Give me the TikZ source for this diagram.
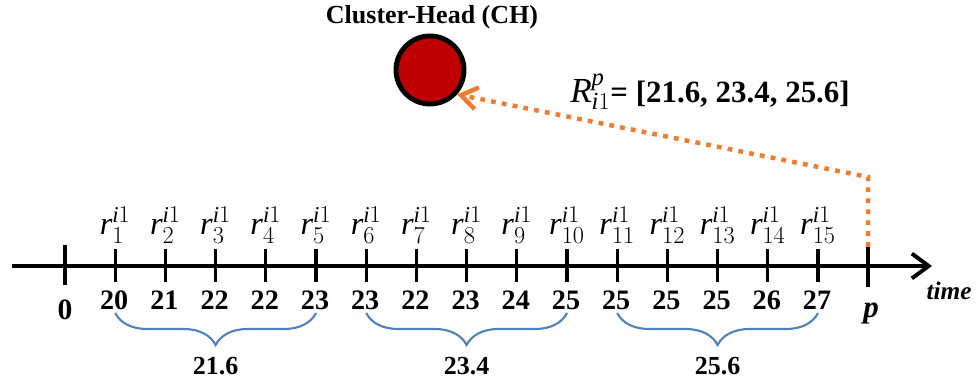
\documentclass[tikz,border=0pt]{standalone}
\usepackage{fontspec}
\setmainfont{Liberation Serif}
\usepackage{xcolor}
\definecolor{chred}{RGB}{192,0,0}
\definecolor{msgorange}{RGB}{237,125,49}
\definecolor{avgblue}{RGB}{79,129,189}
\usepackage{tikz}
\usetikzlibrary{arrows.meta, calc, decorations.pathreplacing}

\tikzset{
  tickmark/.style={line width=2.4pt},
  rlabel/.style={anchor=base, inner sep=0pt, font=\fontsize{23}{26}\selectfont},
  vallabel/.style={anchor=base, inner sep=0pt, font=\fontsize{20}{24}\selectfont\bfseries},
  avgbrace/.style={avgblue, line width=1.5pt, decorate, decoration={brace, mirror, amplitude=0.8cm}},
  avglabel/.style={anchor=base, inner sep=0pt, font=\fontsize{18.5}{22}\selectfont\bfseries},
}

\begin{document}
\begin{tikzpicture}[x=0.025cm, y=-0.025cm]
  \useasboundingbox (0,0) rectangle (976,385);

  % Cluster head
  \node[circle, draw, line width=3.5pt, fill=chred, minimum size=1.7cm, inner sep=0pt] (ch) at (430,70) {};
  \node[font=\fontsize{18.5}{22}\selectfont\bfseries] (chtitle) at (432,17) {Cluster-Head (CH)};

  % Axis
  \coordinate (axstart) at (12,266);
  \coordinate (axend) at (932,266);
  \draw[line width=2.8pt, -{Straight Barb[length=0.42cm, width=0.62cm]}] (axstart) -- (axend);
  \node[font=\fontsize{18}{22}\selectfont\bfseries\itshape, anchor=base, inner sep=0pt] (timelbl) at (949,300) {time};

  % Origin and p
  \coordinate (t0) at (65,266);
  \draw[tickmark] ($(t0)+(0,-21)$) -- ($(t0)+(0,19)$);
  \node[vallabel, font=\fontsize{21}{24}\selectfont\bfseries] (v0) at (65,320) {0};
  \coordinate (tp) at (868,266);
  \draw[tickmark] ($(tp)+(0,-21)$) -- ($(tp)+(0,21)$);
  \node[vallabel, font=\fontsize{22}{26}\selectfont\bfseries\itshape] (vp) at (871,318) {p};

  % Readings
  \foreach \v [count=\k] in {20,21,22,22,23,23,22,23,24,25,25,25,25,26,27} {
    \coordinate (t\k) at ({65+50.2*\k},266);
    \draw[tickmark] ($(t\k)+(0,-17)$) -- ($(t\k)+(0,16)$);
    \node[rlabel] (r\k) at ($(t\k)+(0,-31)$) {$\mathit{r}^{\mathit{i}1}_{\k}$};
    \node[vallabel] (v\k) at ($(t\k)+(-1,44)$) {\v};
  }

  % Averages
  \draw[avgbrace] ($(v1.base)+(1,3)$) -- ($(v5.base)+(1,3)$);
  \node[avglabel] (a1) at ($(v1.base)!0.5!(v5.base)+(1,65)$) {21.6};
  \draw[avgbrace] ($(v6.base)+(1,3)$) -- ($(v10.base)+(1,3)$);
  \node[avglabel] (a2) at ($(v6.base)!0.5!(v10.base)+(1,65)$) {23.4};
  \draw[avgbrace] ($(v11.base)+(1,3)$) -- ($(v15.base)+(1,3)$);
  \node[avglabel] (a3) at ($(v11.base)!0.5!(v15.base)+(1,65)$) {25.6};

  % Report to CH
  \coordinate (psrc) at (868,247);
  \coordinate (pbend) at (868,177);
  \draw[msgorange, line width=3.2pt, dash pattern=on 3.4pt off 4.4pt,
        -{Straight Barb[length=0.4cm, width=0.55cm]}] (psrc) -- (pbend) -- (ch.318);
  \node[anchor=base, inner sep=0pt, font=\fontsize{22}{26}\selectfont] (rpt) at (710,103)
    {{\fontsize{25}{28}\selectfont$\mathit{R}^{\mathit{p}}_{\mathit{i}1}$}\textbf{= [21.6, 23.4, 25.6]}};
\end{tikzpicture}
\end{document}
